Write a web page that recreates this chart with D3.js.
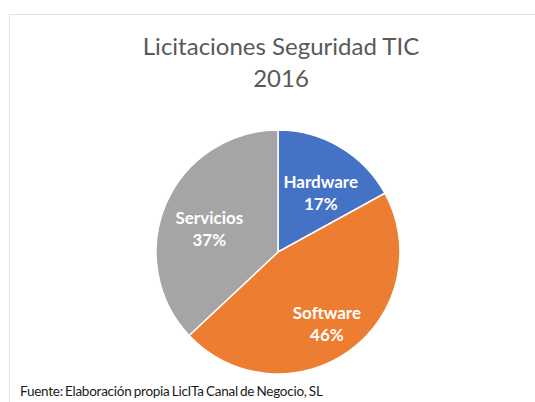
<!DOCTYPE html>
<html>
<head>
<meta charset="utf-8">
<script src="https://cdn.jsdelivr.net/npm/d3@7"></script>
<style>
  body { margin: 0; background: #fff; }
  svg { display: block; font-family: Lato, "Open Sans", sans-serif; }
</style>
</head>
<body>
<div id="chart-area"></div>
<script>
const WIDTH = 535;
const HEIGHT = 402;

// data
const categories = ["Hardware", "Software", "Servicios"];
const values = [17, 46, 37];
const colors = ["#4472C4", "#ED7D31", "#A5A5A5"];
const titleLines = ["Licitaciones Seguridad TIC", "2016"];
const source = "Fuente: Elaboración propia LicITa Canal de Negocio, SL";

const data = categories.map((c, i) => ({ name: c, value: values[i] }));

const svg = d3.select("#chart-area").append("svg")
    .attr("width", WIDTH)
    .attr("height", HEIGHT);

// chart frame (only top and left edges visible in the crop)
svg.append("path")
    .attr("d", `M9.5,${HEIGHT} V14.5 H${WIDTH}`)
    .attr("fill", "none")
    .attr("stroke", "#e3e3e3")
    .attr("stroke-width", 1);

// title
svg.append("text")
    .attr("x", 281)
    .attr("y", 55)
    .attr("text-anchor", "middle")
    .attr("fill", "#595959")
    .attr("font-size", "24px")
    .selectAll("tspan")
    .data(titleLines)
    .join("tspan")
    .attr("x", 281)
    .attr("dy", (d, i) => i === 0 ? 0 : 32)
    .text(d => d);

// pie
const CX = 278, CY = 252, R = 122;
const color = d3.scaleOrdinal().domain(categories).range(colors);

const pie = d3.pie()
    .value(d => d.value)
    .sort(null);

const arc = d3.arc()
    .innerRadius(0)
    .outerRadius(R);

const labelArc = d3.arc()
    .innerRadius(R * 0.64)
    .outerRadius(R * 0.64);

const g = svg.append("g")
    .attr("transform", `translate(${CX}, ${CY})`);

const arcs = pie(data);

g.selectAll("path.slice")
    .data(arcs)
    .join("path")
    .attr("class", "slice")
    .attr("d", arc)
    .attr("fill", d => color(d.data.name))
    .attr("stroke", "#fff")
    .attr("stroke-width", 1.5);

// labels
const labels = g.selectAll("text.label")
    .data(arcs)
    .join("text")
    .attr("class", "label")
    .attr("transform", d => {
        const [x, y] = labelArc.centroid(d);
        return `translate(${x + 3}, ${y})`;
    })
    .attr("text-anchor", "middle")
    .attr("fill", "#fff")
    .attr("font-size", "17px")
    .attr("font-weight", "700");

labels.append("tspan")
    .attr("x", 0)
    .attr("dy", "0.2em")
    .text(d => d.data.name);

labels.append("tspan")
    .attr("x", 0)
    .attr("dy", "1.3em")
    .text(d => d3.format(".0f")(d.data.value) + "%");

// source note
svg.append("text")
    .attr("x", 20)
    .attr("y", 396)
    .attr("fill", "#1a1a1a")
    .attr("font-size", "13.5px")
    .attr("letter-spacing", "-0.25px")
    .attr("word-spacing", "-1px")
    .text(source);
</script>
</body>
</html>
